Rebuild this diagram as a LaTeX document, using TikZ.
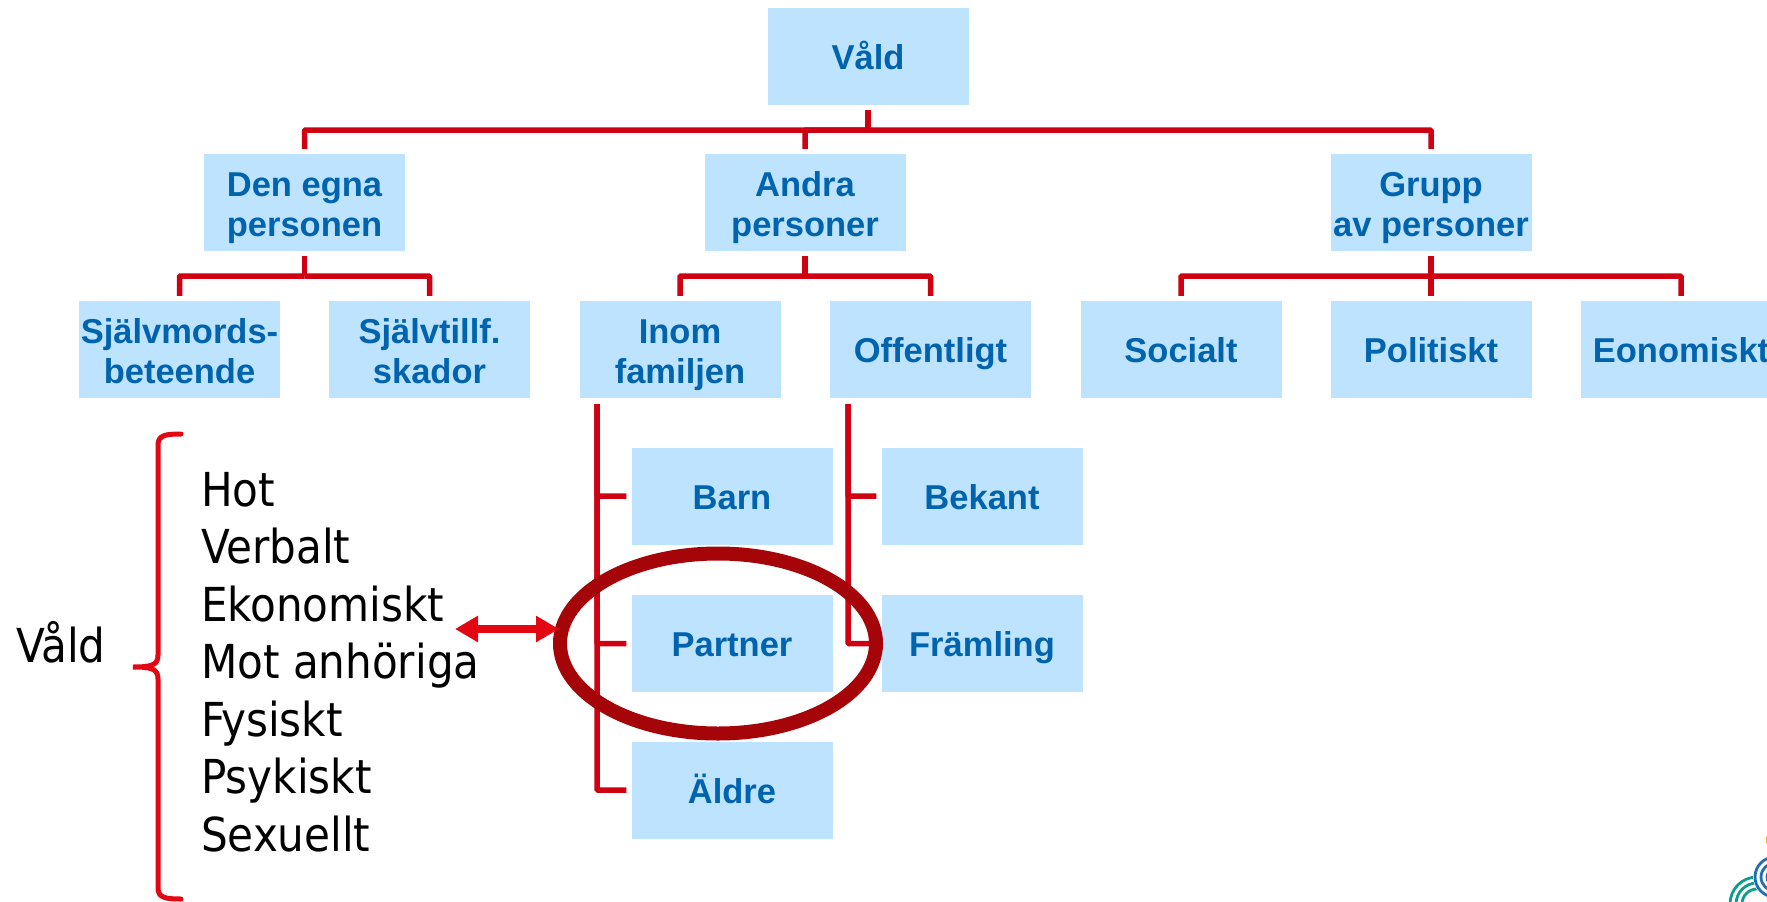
\documentclass[tikz,border=0pt]{standalone}
\usepackage{fontspec}
\setmainfont{Liberation Sans}
\newfontfamily\listfont{DejaVu Sans Condensed}
\usetikzlibrary{arrows.meta,shapes.geometric}
\definecolor{boxfill}{HTML}{BDE3FF}
\definecolor{boxtext}{HTML}{0063AE}
\definecolor{connred}{HTML}{CE0012}
\definecolor{ringred}{HTML}{A50509}
\definecolor{brightred}{HTML}{E30613}
\definecolor{logoblue}{HTML}{1F6FB5}
\definecolor{logoteal}{HTML}{0E9C8C}
\definecolor{logoyellow}{HTML}{F5C400}
\tikzset{
  vbox/.style={fill=boxfill,text=boxtext,minimum width=201pt,minimum height=97pt,inner sep=0pt,align=center,
    font=\fontsize{34.5}{40}\selectfont\bfseries,
    execute at begin node={\rule{0pt}{34pt}},
    execute at end node={\rule[-7.5pt]{0pt}{7.5pt}}},
  twoline/.style={vbox,execute at begin node={\rule{0pt}{76pt}}},
  conn/.style={draw=connred,line width=5.5pt,rounded corners=1pt},
  stem/.style={conn,shorten <=5pt},
  drop/.style={conn,shorten >=5pt},
  listtext/.style={inner sep=0pt,align=left,font=\fontsize{46.8}{57.5}\selectfont\listfont}
}
\begin{document}
\begin{tikzpicture}[x=1pt,y=-1pt]
\useasboundingbox (0,0) rectangle (1767,902);
\clip (0,0) rectangle (1767,902);
% boxes
\node[vbox] (vald) at (868,56.5) {Våld};
\node[twoline] (egen) at (304.5,202.5) {Den egna\\personen};
\node[twoline] (andra) at (805,202.5) {Andra\\personer};
\node[twoline] (grupp) at (1431,202.5) {Grupp\\av personer};
\node[twoline] (sjm) at (179.5,349.5) {Självmords-\\beteende};
\node[twoline] (sjt) at (429.5,349.5) {Självtillf.\\skador};
\node[twoline] (inom) at (680,349.5) {Inom\\familjen};
\node[vbox] (off) at (930.5,349.5) {Offentligt};
\node[vbox] (soc) at (1181,349.5) {Socialt};
\node[vbox] (pol) at (1431,349.5) {Politiskt};
\node[vbox] (eko) at (1681,349.5) {Eonomiskt};
\node[vbox] (barn) at (732,496) {Barn};
\node[vbox] (partner) at (732,643.5) {Partner};
\node[vbox] (aldre) at (732,790) {Äldre};
\node[vbox] (bekant) at (982,496) {Bekant};
\node[vbox] (framling) at (982,643.5) {Främling};
% bus junctions
\coordinate (bus1) at (868,130);
\coordinate (bus2) at (304.5,276);
\coordinate (bus3) at (805,276);
\coordinate (bus4) at (1431,276);
\coordinate (trunkA) at (597,404);
\coordinate (trunkB) at (848,404);
% connectors
\draw[stem] (vald.south) -- (bus1);
\draw[drop] (bus1) -| (egen.north);
\draw[drop] (bus1) -| (andra.north);
\draw[drop] (bus1) -| (grupp.north);
\draw[stem] (egen.south) -- (bus2);
\draw[drop] (bus2) -| (sjm.north);
\draw[drop] (bus2) -| (sjt.north);
\draw[stem] (andra.south) -- (bus3);
\draw[drop] (bus3) -| (inom.north);
\draw[drop] (bus3) -| (off.north);
\draw[stem] (grupp.south) -- (bus4);
\draw[drop] (bus4) -| (soc.north);
\draw[drop] (bus4) -- (pol.north);
\draw[drop] (bus4) -| (eko.north);
\draw[drop] (trunkA) |- (barn.west);
\draw[drop] (trunkA) |- (partner.west);
\draw[drop] (trunkA) |- (aldre.west);
\draw[drop] (trunkB) |- (bekant.west);
\draw[drop] (trunkB) |- (framling.west);
% ring
\node[draw=ringred,line width=14pt,ellipse,minimum width=316pt,minimum height=180pt,inner sep=0pt] (ring) at (718,643.5) {};
% left text
\node[listtext,anchor=base west] (vtitle) at (16,662) {Våld};
\node[listtext,anchor=north west] (vlist) at (201,472) {Hot\\Verbalt\\Ekonomiskt\\Mot anhöriga\\Fysiskt\\Psykiskt\\Sexuellt};
% brace
\draw[brightred,line width=5pt,line cap=round] (181,434) .. controls (166,434) and (158,435) .. (158,445) -- (158,655) .. controls (158,665) and (152,667) .. (133,667) .. controls (152,667) and (158,669) .. (158,679) -- (158,888) .. controls (158,898) and (166,899) .. (181,899);
% arrow
\coordinate (arrowL) at (455,629);
\coordinate (arrowR) at (559,629);
\draw[brightred,line width=8pt,{Triangle[length=23pt,width=25pt]}-{Triangle[length=23pt,width=25pt]}] (arrowL) -- (arrowR);
% logo
\foreach \r in {27,21,15} \draw[logoteal,line width=2.8pt] (1757,904) circle[radius=\r];
\fill[white] (1775,877) circle[radius=22];
\foreach \r in {20,14,8} \draw[logoblue,line width=2.8pt] (1775,877) circle[radius=\r];
\fill[logoyellow] (1767,840) ellipse[x radius=1.2,y radius=4];
\end{tikzpicture}
\end{document}
